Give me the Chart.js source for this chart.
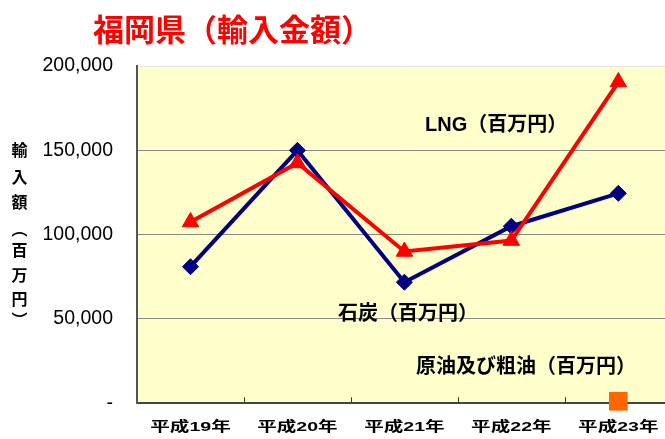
<!DOCTYPE html>
<html><head><meta charset="utf-8">
<script src="https://cdn.jsdelivr.net/npm/chart.js@4"></script>
<style>html,body{margin:0;padding:0;overflow:hidden;background:#fff;width:665px;height:439px}canvas{display:block}</style>
</head><body>
<canvas id="c" width="685" height="439" style="width:685px;height:439px"></canvas>
<script>
const categories = ['平成19年','平成20年','平成21年','平成22年','平成23年'];
const lngValues  = [107500, 142500, 90000, 96500, 190500];
const coalValues = [81000, 150000, 71800, 105000, 124500];
const oilValues  = [null, null, null, null, 1200];
const seriesNames = ['LNG（百万円）','石炭（百万円）','原油及び粗油（百万円）'];
const chartTitle = '福岡県（輸入金額）';
const yTitleChars = ['輸','入','額','︵','百','万','円','︶'];
const yTicks = [0, 50000, 100000, 150000, 200000];

const CJK = "'Noto Sans CJK JP'";

const deco = {
  id:'deco',
  beforeDraw(chart){
    const {ctx, chartArea:a} = chart;
    ctx.save();
    ctx.fillStyle = '#FFFFCC';
    ctx.fillRect(a.left, a.top, a.right-a.left, a.bottom-a.top);
    ctx.restore();
  },
  afterDraw(chart){
    const {ctx, chartArea:a, scales} = chart;
    const x = scales.x;
    ctx.save();
    ctx.strokeStyle = '#333'; ctx.lineWidth = 1;
    for (let i=0;i<categories.length-1;i++){
      const px = Math.round((x.getPixelForValue(i)+x.getPixelForValue(i+1))/2)+0.5;
      ctx.beginPath(); ctx.moveTo(px, a.bottom); ctx.lineTo(px, a.bottom-6); ctx.stroke();
    }
    // x category labels (horizontally stretched, as in the reference)
    ctx.fillStyle = '#000';
    ctx.textAlign = 'center'; ctx.textBaseline = 'middle';
    ctx.font = "bold 13.5px 'Liberation Sans', " + CJK;
    categories.forEach((lab,i)=>{
      ctx.save();
      ctx.translate(x.getPixelForValue(i), a.bottom + 24);
      ctx.scale(1.45, 1);
      ctx.fillText(lab, 0, 0);
      ctx.restore();
    });
    // title
    ctx.fillStyle = '#FF0000';
    ctx.font = "bold 31px " + CJK;
    ctx.textAlign = 'left';
    ctx.fillText(chartTitle, 93, 29);
    // y title
    ctx.fillStyle = '#000';
    ctx.textAlign = 'center';
    ctx.font = "bold 16px " + CJK;
    const ys = [150,177,202,229,250,275,299,320];
    yTitleChars.forEach((ch,i)=>ctx.fillText(ch, 19.5, ys[i]));
    // series labels
    ctx.font = "bold 20px 'Liberation Sans', " + CJK;
    ctx.textAlign = 'left';
    ctx.fillText(seriesNames[0], 425, 125);
    ctx.fillText(seriesNames[1], 338, 314);
    ctx.fillText(seriesNames[2], 416, 367);
    ctx.restore();
  }
};

new Chart(document.getElementById('c'), {
  type:'line',
  data:{
    labels: categories,
    datasets:[
      {label:seriesNames[0], data:lngValues, borderColor:'#FF0000', backgroundColor:'#FF0000',
       borderWidth:4, pointStyle:'triangle', pointRadius:9.5, pointHoverRadius:9.5, pointBorderWidth:1, clip:false, tension:0},
      {label:seriesNames[1], data:coalValues, borderColor:'#000080', backgroundColor:'#000080',
       borderWidth:4, pointStyle:'rectRot', pointRadius:8, pointHoverRadius:8, pointBorderWidth:1, clip:false, tension:0},
      {label:seriesNames[2], data:oilValues, borderColor:'#FF6600', backgroundColor:'#FF6600',
       showLine:false, pointStyle:'rect', pointRadius:13.2, pointHoverRadius:13.2, pointBorderWidth:0, clip:false}
    ]
  },
  options:{
    responsive:false, animation:false, devicePixelRatio:1,
    layout:{padding:{top:66,left:0,right:0,bottom:0}},
    plugins:{legend:{display:false}, tooltip:{enabled:false}, title:{display:false}},
    scales:{
      x:{
        offset:true,
        grid:{display:false, drawTicks:false},
        border:{display:true, color:'#444', width:2},
        ticks:{display:false, padding:16},
        afterFit(s){ s.height = 35; }
      },
      y:{
        min:0, max:200000,
        afterBuildTicks(s){ s.ticks = yTicks.map(v=>({value:v})); },
        grid:{color:(c)=> c.tick && c.tick.value===200000 ? '#e6e6e6' : '#888', lineWidth:1, drawTicks:false},
        border:{display:true, color:'#555', width:2},
        ticks:{padding:24, color:'#000', font:{family:"'Liberation Sans'", size:19.5},
          callback:(v)=> v===0 ? '-' : v.toLocaleString('en-US')},
        afterFit(s){ s.width = 137; }
      }
    }
  },
  plugins:[deco]
});
</script>
</body></html>
